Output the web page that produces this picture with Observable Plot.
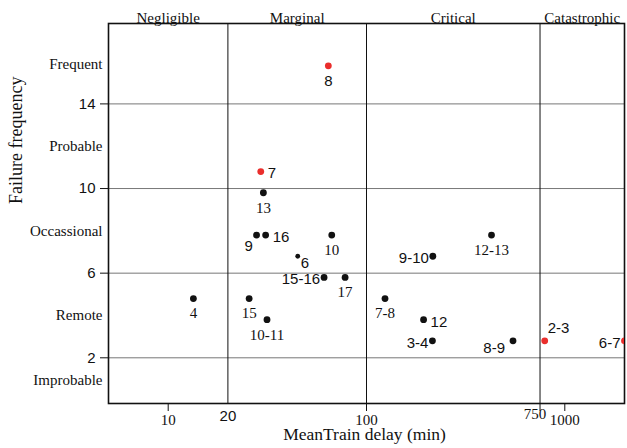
<!DOCTYPE html>
<html><head><meta charset="utf-8">
<script src="https://cdn.jsdelivr.net/npm/d3@7"></script>
<script src="https://cdn.jsdelivr.net/npm/@observablehq/plot@0.6"></script>
<style>html,body{margin:0;padding:0;background:#fff;overflow:hidden;}</style>
</head><body><div id="chart"></div>
<script>
// ---- data ----
const labels    = ["8","7","13","9","16","10","6","15-16","17","15","10-11","4","9-10","12-13","7-8","12","3-4","8-9","2-3","6-7"];
const delay     = [64.2,29.3,30.2,27.9,31.0,66.8,45.0,61.1,78.0,25.6,31.5,13.4,216,427,124,194,215,548,792,2000];
const frequency = [15.8,10.8,9.8,7.8,7.8,7.8,6.8,5.8,5.8,4.8,3.8,4.8,6.8,7.8,4.8,3.8,2.8,2.8,2.8,2.8];
const highlighted = ["8","7","2-3","6-7"];
const severity = ["Negligible","Marginal","Critical","Catastrophic"];
const severityBounds = [5,20,100,750,2000];
const likelihood = ["Improbable","Remote","Occassional","Probable","Frequent"];
const likelihoodBounds = [-0.16,2,6,10,14,17.8];
const yTicks = [2,6,10,14];
const xTicks = [10,20,100,750,1000];

// ---- styles (label placement / fonts) ----
const SERIF = "'Liberation Serif','Times New Roman',serif";
const SANS = "'Liberation Sans',Arial,Helvetica,sans-serif";
const placement = ["below","right","below","belowLeft","right","below","rightBelow","left","below","below","below","below","left","below","below","right","left","leftBelow","aboveRight","left"];
const labelFont = ["sans","sans","serif","sans","sans","serif","sans","sans","serif","serif","serif","serif","sans","serif","serif","sans","sans","sans","sans","sans"];
const offsets = {
  below:      {dx: 0,  dy: 15,  anchor: "middle"},
  right:      {dx: 7,  dy: 2,   anchor: "start"},
  left:       {dx: -4, dy: 2,   anchor: "end"},
  belowLeft:  {dx: -8, dy: 11,  anchor: "middle"},
  rightBelow: {dx: 3,  dy: 6.5, anchor: "start"},
  leftBelow:  {dx: -8, dy: 7,   anchor: "end"},
  aboveRight: {dx: 3,  dy: -12.5, anchor: "start"}
};
const smallDots = ["6"];

const rows = labels.map((l, i) => ({label: l, delay: delay[i], freq: frequency[i],
  red: highlighted.includes(l), pos: placement[i], font: labelFont[i]}));
const sevRows = severity.map((s, i) => ({name: s, mid: Math.sqrt(severityBounds[i] * severityBounds[i+1])}));
const likRows = likelihood.map((s, i) => ({name: s, mid: (likelihoodBounds[i] + likelihoodBounds[i+1]) / 2}));

const labelMarks = [];
for (const [pos, o] of Object.entries(offsets)) {
  for (const f of ["sans","serif"]) {
    labelMarks.push(Plot.text(rows, {
      filter: d => d.pos === pos && d.font === f,
      x: "delay", y: "freq", text: "label",
      dx: o.dx, dy: o.dy, textAnchor: o.anchor,
      fontFamily: f === "sans" ? SANS : SERIF, fontSize: 15, fill: "#111"
    }));
  }
}

const fmt = d3.format("d");
const chart = Plot.plot({
  width: 627, height: 448,
  marginLeft: 108, marginRight: 3, marginTop: 23, marginBottom: 45,
  style: {background: "#fff", color: "#111", fontFamily: SERIF},
  x: {type: "log", domain: [severityBounds[0], severityBounds[4]]},
  y: {domain: [likelihoodBounds[0], likelihoodBounds[5]]},
  marks: [
    Plot.ruleY(yTicks, {stroke: "#777", strokeWidth: 1}),
    Plot.ruleX(severityBounds.slice(1, 4), {stroke: "#111", strokeWidth: 1}),
    Plot.frame({stroke: "#111", strokeWidth: 1.6}),
    Plot.axisY({ticks: yTicks, tickSize: 8, tickPadding: 5, fontFamily: SANS, fontSize: 15, label: null, stroke: "#111"}),
    Plot.axisX({ticks: xTicks.filter(t => t !== 20), tickSize: 8, tickFormat: () => "", label: null, stroke: "#111"}),
    // tick labels drawn as text at the x scale positions
    Plot.text(xTicks.filter(t => [10,100,1000].includes(t)), {x: d => d, text: d => fmt(d), frameAnchor: "bottom", lineAnchor: "top", dy: 11, fontFamily: SERIF, fontSize: 15, fill: "#111"}),
    Plot.text(xTicks.filter(t => t === 20), {x: d => d, text: d => fmt(d), frameAnchor: "bottom", lineAnchor: "top", dy: 7, fontFamily: SANS, fontSize: 15, fill: "#111"}),
    Plot.text(xTicks.filter(t => t === 750), {x: d => d, text: d => fmt(d), frameAnchor: "bottom", lineAnchor: "top", dx: -5, dy: 5, fontFamily: SERIF, fontSize: 15, fill: "#111"}),
    Plot.text(sevRows, {x: "mid", text: "name", frameAnchor: "top", dy: -11, fontFamily: SERIF, fontSize: 15, fill: "#111"}),
    Plot.text(likRows, {y: "mid", text: "name", frameAnchor: "left", dx: -6, textAnchor: "end", fontFamily: SERIF, fontSize: 15, fill: "#111"}),
    Plot.text(["MeanTrain delay (min)"], {text: d => d, frameAnchor: "bottom", dx: -2, dy: 36, fontFamily: SERIF, fontSize: 17.5, fill: "#111"}),
    Plot.text(["Failure frequency"], {text: d => d, frameAnchor: "left", dx: -92, dy: -9.5, rotate: -90, fontFamily: SERIF, fontSize: 18, fill: "#111"}),
    Plot.dot(rows, {filter: d => !d.red && !smallDots.includes(d.label), x: "delay", y: "freq", r: 3.4, fill: "#111", stroke: null}),
    Plot.dot(rows, {filter: d => !d.red && smallDots.includes(d.label), x: "delay", y: "freq", r: 2.4, fill: "#111", stroke: null}),
    Plot.dot(rows, {filter: d => d.red, x: "delay", y: "freq", r: 3.4, fill: "#ea2e2c", stroke: null, clip: true}),
    ...labelMarks
  ]
});
document.getElementById("chart").appendChild(chart);
</script>
</body></html>
